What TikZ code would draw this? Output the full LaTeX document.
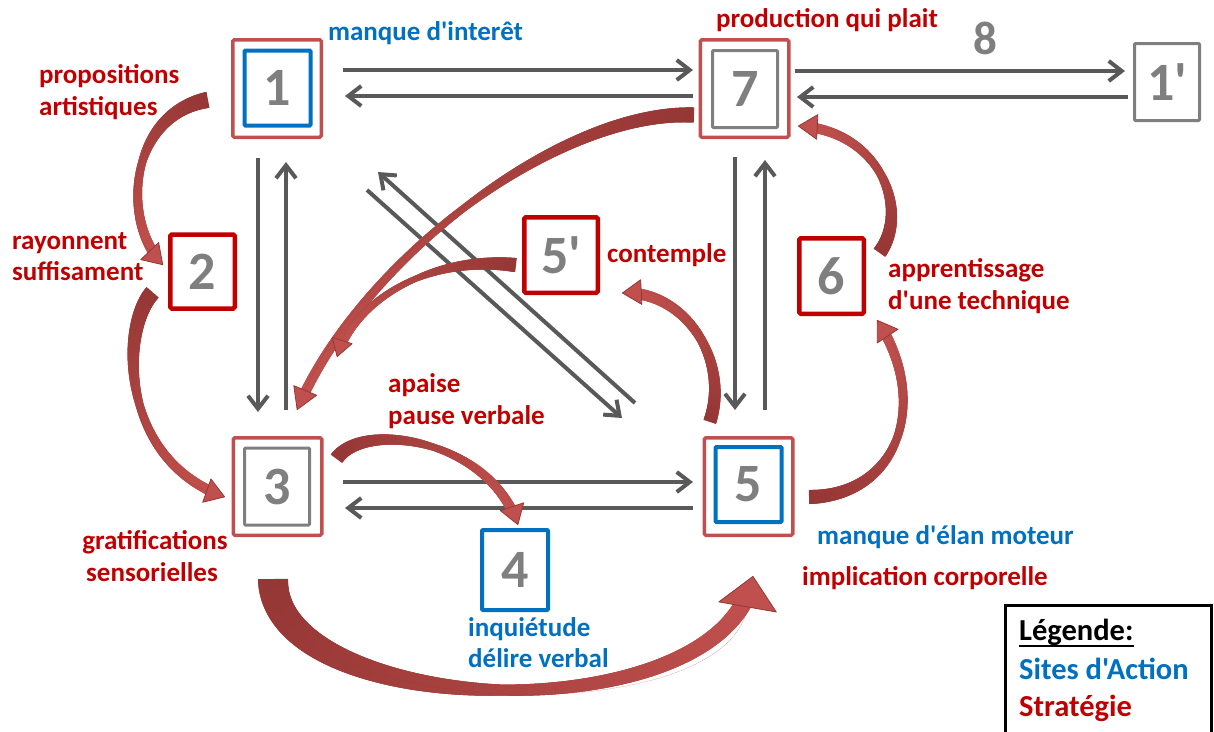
\documentclass[tikz,border=0pt]{standalone}
\usepackage{fontspec}
\setmainfont{Carlito}[Ligatures=TeXOff]
\usetikzlibrary{arrows.meta,decorations.markings,calc}
\definecolor{rlight}{HTML}{C0504D}
\definecolor{rdark}{HTML}{953735}
\definecolor{sred}{HTML}{C00000}
\definecolor{sblue}{HTML}{0070C0}
\definecolor{dgray}{HTML}{7F7F7F}
\definecolor{agray}{HTML}{595959}
\newcommand\dgfont{\fontsize{54}{54}\selectfont\bfseries}
\newcommand\lblfont{\fontsize{27}{32}\selectfont\bfseries}
\newcommand\legfont{\fontsize{30.5}{34}\selectfont\bfseries}
\tikzset{
  outerbox/.style={draw=rlight, line width=3.5pt, rounded corners=1.5pt, minimum width=88.5pt, minimum height=97.5pt, inner sep=0pt},
  innerblue/.style={draw=sblue, line width=4pt, rounded corners=1pt, minimum width=66pt, minimum height=75pt, inner sep=0pt, font=\dgfont, text=dgray},
  innergray/.style={draw=dgray, line width=3pt, rounded corners=1pt, minimum width=65pt, minimum height=77pt, inner sep=0pt, font=\dgfont, text=dgray},
  redbox/.style={draw=sred, line width=4.5pt, rounded corners=1.5pt, minimum width=64.5pt, minimum height=74pt, inner sep=0pt, font=\dgfont, text=dgray},
  bluebox/.style={draw=sblue, line width=4pt, rounded corners=1pt, minimum width=66pt, minimum height=80pt, inner sep=0pt, font=\dgfont, text=dgray},
  graybox/.style={draw=dgray, line width=3pt, rounded corners=1pt, minimum width=65pt, minimum height=77pt, inner sep=0pt, font=\dgfont, text=dgray},
  garrow/.style={draw=agray, line width=4pt, -{Straight Barb[length=13pt,width=20pt]}},
  lbl/.style={inner sep=0pt, anchor=base west, font=\lblfont},
  redlbl/.style={lbl, text=sred},
  bluelbl/.style={lbl, text=sblue},
  band/.style n args={4}{decorate, decoration={markings,
    mark=between positions 0 and 1 step 0.7pt with {%
      \pgfmathsetmacro\bnD{\pgfkeysvalueof{/pgf/decoration/mark info/distance from start}}%
      \pgfmathsetmacro\bnL{\pgfdecoratedpathlength-#4+3}%
      \ifdim\bnD pt<\bnL pt\relax
        \pgfmathsetmacro\bnT{\bnD/\bnL}%
        \pgfmathsetmacro\bnW{0.5*(\bnT<0.5 ? #1+(#2-#1)*2*\bnT : #2+(#3-#2)*(2*\bnT-1))}%
        \pgfmathsetmacro\bnP{100*\bnT}%
        \fill[rlight!\bnP!rdark] (-1,-\bnW) rectangle (1,\bnW);%
      \fi}}},
  rhead/.style 2 args={draw=rdark, line width=0.01pt, -{Triangle[length=#1pt, width=#2pt, fill=rlight, line width=0.8pt, line join=round]}}
}
\newcommand\redarr[6]{%
  \path[band={#1}{#2}{#3}{#4}] #6;
  \draw[rhead={#4}{#5}] #6;}
\begin{document}
\begin{tikzpicture}[x=1pt,y=-1pt]
\useasboundingbox (0,0) rectangle (1214,731);

% ---- boxes
\node[outerbox] (o1) at (277,88.5) {};
\node[innerblue] (i1) at (277.5,88) {1};
\node[outerbox] (o7) at (744.5,88.5) {};
\node[innergray] (i7) at (745,89) {7};
\node[graybox] (b1p) at (1167,82) {1'};
\node[redbox] (b2) at (202.5,271.5) {2};
\node[redbox, minimum width=73.5pt, minimum height=75.5pt] (b5p) at (561,255) {5'};
\node[redbox, minimum height=75.5pt] (b6) at (831.5,276) {6};
\node[outerbox] (o3) at (277.5,486.5) {};
\node[innergray] (i3) at (277,486.5) {3};
\node[outerbox] (o5) at (748.5,486.5) {};
\node[innerblue] (i5) at (748.5,484.5) {5};
\node[bluebox] (b4) at (515,570) {4};

% ---- gray arrows
\draw[garrow] ([shift={(66,-18.5)}]o1.center) -- ([shift={(-51.5,-18.5)}]o7.center);
\draw[garrow] ([shift={(-51.5,7.5)}]o7.center) -- ([shift={(68,7.5)}]o1.center);
\draw[garrow] ([shift={(50.5,-17.5)}]o7.center) -- ([shift={(-42,-11)}]b1p.center);
\draw[garrow] ([shift={(-39,15)}]b1p.center) -- ([shift={(52.5,8.5)}]o7.center);
\draw[garrow] ([shift={(-19,69.5)}]o1.center) -- ([shift={(-19.5,-74.5)}]o3.center);
\draw[garrow] ([shift={(8.5,-76.5)}]o3.center) -- ([shift={(9,73.5)}]o1.center);
\draw[garrow] ([shift={(65.5,-4.5)}]o3.center) -- ([shift={(-55.5,-4.5)}]o5.center);
\draw[garrow] ([shift={(-55.5,21.5)}]o5.center) -- ([shift={(67.5,21.5)}]o3.center);
\draw[garrow] ([shift={(-9.5,68.5)}]o7.center) -- ([shift={(-13.5,-76.5)}]o5.center);
\draw[garrow] ([shift={(16.5,-76.5)}]o5.center) -- ([shift={(20.5,71.5)}]o7.center);
\draw[garrow] ([shift={(-113.5,-83.5)}]o5.center) -- ([shift={(101,83.5)}]o1.center);
\draw[garrow] ([shift={(90,101.5)}]o1.center) -- ([shift={(-126.5,-68.5)}]o5.center);

% ---- red curved arrows
\redarr{16}{8}{10}{20}{26}{([shift={(-70,11.5)}]o1.center) .. controls (130,115) and (120,220) .. ([shift={(-39.5,-6.5)}]b2.center)}
\redarr{16}{8}{10}{20}{26}{([shift={(-50.5,21.5)}]b2.center) .. controls (120,330) and (120,460) .. ([shift={(-52.5,10.5)}]o3.center)}
\redarr{15}{7}{10}{22}{26}{([shift={(-51.5,26.5)}]o7.center) .. controls (560,110) and (360,260) .. ([shift={(19.5,-76.5)}]o3.center)}
\redarr{14}{6}{8}{18}{22}{([shift={(-46,10)}]b5p.center) .. controls (430,255) and (355,300) .. ([shift={(59.5,-129.5)}]o3.center)}
\redarr{14}{7}{10}{20}{26}{([shift={(59.5,-28.5)}]o3.center) .. controls (365,420) and (490,440) .. ([shift={(3,-45)}]b4.center)}
\redarr{13}{9}{11}{20}{26}{([shift={(-38.5,-65.5)}]o5.center) .. controls (730,360) and (685,290) .. ([shift={(61,38)}]b5p.center)}
\redarr{14}{8}{10}{20}{26}{([shift={(61.5,10.5)}]o5.center) .. controls (900,495) and (930,400) .. ([shift={(45.5,44)}]b6.center)}
\redarr{14}{8}{10}{20}{26}{([shift={(48.5,-24)}]b6.center) .. controls (910,210) and (880,130) .. ([shift={(53.5,37.5)}]o7.center)}
\redarr{30}{11}{17}{32}{60}{([shift={(-4.5,93.5)}]o3.center) .. controls (275,720) and (725,735) .. ([shift={(4.5,89.5)}]o5.center)}

% ---- labels
\node[bluelbl] (t1) at (328,40) {manque d'interêt};
\node[redlbl] (t2) at (716,27) {production qui plait};
\node[inner sep=0pt, font=\fontsize{47}{47}\selectfont\bfseries, text=dgray] (t8) at (985,38) {8};
\node[redlbl] (t3a) at (39,83) {propositions};
\node[redlbl] (t3b) at (39,115) {artistiques};
\node[redlbl] (t4a) at (12,249) {rayonnent};
\node[redlbl] (t4b) at (12,280) {suffisament};
\node[redlbl] (t5) at (607,262) {contemple};
\node[redlbl] (t6a) at (888,277) {apprentissage};
\node[redlbl] (t6b) at (888,309) {d'une technique};
\node[redlbl] (t7a) at (388,392) {apaise};
\node[redlbl] (t7b) at (388,424) {pause verbale};
\node[redlbl, anchor=base] (t9a) at (155,549) {gratifications};
\node[redlbl, anchor=base] (t9b) at (152,581) {sensorielles};
\node[bluelbl] (t10) at (817,544) {manque d'élan moteur};
\node[redlbl] (t11) at (802,585) {implication corporelle};
\node[bluelbl] (t12a) at (468,636) {inquiétude};
\node[bluelbl] (t12b) at (468,667) {délire verbal};

% ---- legend
\node[draw=black, line width=3pt, minimum width=206pt, minimum height=160pt, inner sep=0pt, anchor=north west] (leg) at (1004,604) {};
\node[lbl, font=\legfont, text=black] (lg1) at (1019,640) {Légende:};
\draw[line width=2pt] ([yshift=-6pt]lg1.base west) -- ([yshift=-6pt]lg1.base east);
\node[lbl, font=\legfont, text=sblue] (lg2) at (1019,679) {Sites d'Action};
\node[lbl, font=\legfont, text=sred] (lg3) at (1019,716) {Stratégie};
\end{tikzpicture}
\end{document}
